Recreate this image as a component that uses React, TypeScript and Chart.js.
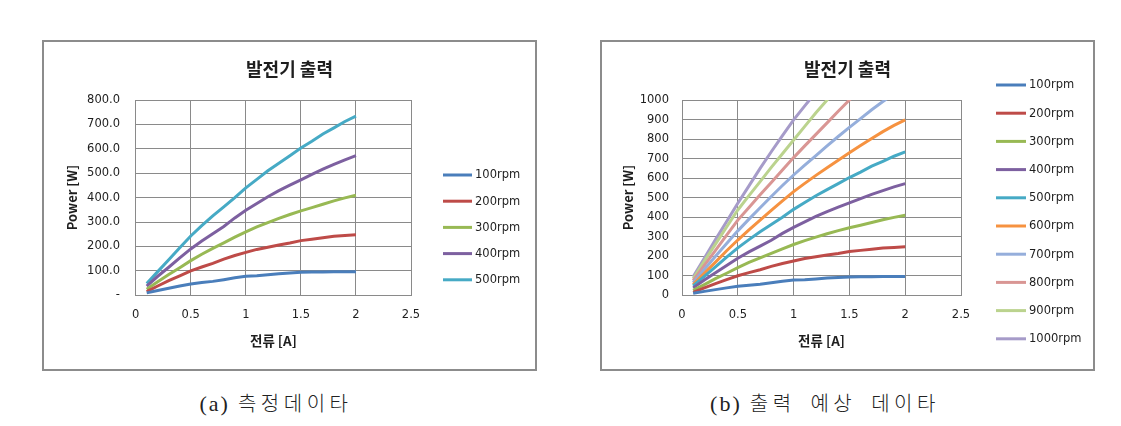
import React, { useEffect, useRef } from "react";
import { Chart, registerables } from "chart.js";

Chart.register(...registerables);

// ---------- data ----------
const currents = [0.1, 0.2, 0.3, 0.4, 0.5, 0.6, 0.7, 0.8, 0.9, 1.0, 1.1, 1.2, 1.3, 1.4, 1.5, 1.6, 1.7, 1.8, 1.9, 2.0];

const rpm100 = [10, 20, 29, 38, 46, 52, 57, 64, 72, 78, 80, 84, 88, 91, 94, 95, 95, 96, 96, 96];
const rpm200 = [15, 38, 60, 80, 100, 116, 131, 148, 163, 176, 188, 197, 206, 214, 224, 230, 236, 242, 245, 248];
const rpm300 = [25, 55, 85, 113, 142, 168, 192, 215, 238, 260, 280, 298, 315, 331, 346, 359, 373, 387, 399, 410];
const rpm400 = [38, 78, 115, 153, 190, 222, 252, 282, 317, 348, 376, 404, 429, 451, 473, 495, 517, 536, 555, 572];
const rpm500 = [48, 97, 146, 195, 243, 285, 325, 362, 400, 440, 475, 510, 541, 572, 603, 631, 661, 686, 712, 734];
const rpm600 = [55, 113, 170, 228, 283, 335, 385, 435, 483, 531, 573, 614, 653, 692, 730, 767, 803, 838, 870, 898];
const rpm700 = [65, 132, 200, 265, 330, 390, 448, 506, 562, 616, 666, 715, 765, 813, 860, 905, 950, 992, 1032, 1070];
const rpm800 = [75, 153, 230, 308, 385, 450, 515, 578, 642, 705, 765, 824, 883, 942, 1000, 1055, 1108, 1160, 1210, 1260];
const rpm900 = [85, 175, 262, 350, 437, 510, 582, 655, 725, 795, 865, 935, 1000, 1065, 1128, 1190, 1250, 1310, 1368, 1425];
const rpm1000 = [95, 190, 285, 378, 471, 560, 650, 735, 818, 898, 970, 1040, 1108, 1175, 1240, 1300, 1360, 1420, 1478, 1535];

const seriesLabels = ["100rpm", "200rpm", "300rpm", "400rpm", "500rpm", "600rpm", "700rpm", "800rpm", "900rpm", "1000rpm"];
const seriesColors = ["#4A7EBB", "#BE4B48", "#98B954", "#7D60A0", "#46AAC5", "#F69240", "#95AEDB", "#D99694", "#BBD38E", "#A69BC9"];
const allSeries = [rpm100, rpm200, rpm300, rpm400, rpm500, rpm600, rpm700, rpm800, rpm900, rpm1000];

const chartTitle = "발전기 출력";
const xTitle = "전류 [A]";
const yTitle = "Power [W]";
const captionATag = "(a)";
const captionAText = "측정데이타";
const captionBTag = "(b)";
const captionBText = "출력 예상 데이타";

// ---------- styling ----------
const SANS = '"DejaVu Sans", "Noto Sans CJK KR", sans-serif';
const KR = '"Noto Sans CJK KR", "DejaVu Sans", sans-serif';
const GRID = "#8a8a8a";
const TEXT = "#1e1e1e";

const panelLegendPlugin = {
  id: "panelLegend",
  afterDraw(chart: any, _args: any, opts: any) {
    if (!opts || !opts.display) return;
    const ctx = chart.ctx;
    ctx.save();
    ctx.font = `${opts.fontSize}px ${SANS}`;
    ctx.textBaseline = "middle";
    ctx.textAlign = "left";
    chart.data.datasets.forEach((ds: any, i: number) => {
      const y = opts.y + i * opts.step;
      ctx.strokeStyle = ds.borderColor;
      ctx.lineWidth = 3;
      ctx.beginPath();
      ctx.moveTo(opts.x, y);
      ctx.lineTo(opts.x + opts.lineLen, y);
      ctx.stroke();
      ctx.fillStyle = TEXT;
      ctx.fillText(ds.label, opts.x + opts.lineLen + 3, y + 0.5);
    });
    ctx.restore();
  },
};

type PanelProps = {
  count: number;
  yMax: number;
  yFormat: (v: number) => string;
  yWidth: number;
  padRight: number;
  yTickPad: number;
  yTitlePad: number;
  legend: { x: number; y: number; step: number; lineLen: number };
};

const CW = 491;
const CH = 327;

function Panel(p: PanelProps) {
  const ref = useRef<HTMLCanvasElement | null>(null);
  useEffect(() => {
    if (!ref.current) return;
    const datasets = allSeries.slice(0, p.count).map((s, i) => ({
      label: seriesLabels[i],
      data: currents.map((x, j) => ({ x, y: s[j] })),
      borderColor: seriesColors[i],
      backgroundColor: seriesColors[i],
      borderWidth: 3,
      pointRadius: 0,
      pointHoverRadius: 0,
      fill: false,
      tension: 0,
      clip: 0,
      xAxisID: "x",
      yAxisID: "y",
    }));
    const chart = new Chart(ref.current, {
      type: "line",
      data: { datasets },
      plugins: [panelLegendPlugin],
      options: {
        responsive: false,
        animation: false,
        devicePixelRatio: 1,
        layout: { padding: 0 },
        plugins: {
          legend: { display: false },
          tooltip: { enabled: false },
          title: {
            display: true,
            text: chartTitle,
            color: TEXT,
            font: { family: KR, size: 18, weight: "bold" },
            lineHeight: 1.2,
            padding: { top: 16.2, bottom: 20.2 },
          },
          panelLegend: { display: true, fontSize: 11.5, ...p.legend },
        } as any,
        scales: {
          x: {
            type: "linear",
            min: 0,
            max: 2.5,
            ticks: {
              stepSize: 0.5,
              padding: 12.8,
              color: TEXT,
              font: { family: SANS, size: 11.5 },
              callback: (v: any) => String(Number(v)),
            },
            grid: { color: GRID, lineWidth: 1, drawTicks: false },
            border: { color: GRID, width: 1 },
            title: {
              display: true,
              text: xTitle,
              color: TEXT,
              font: { family: KR, size: 13.5, weight: "bold" },
              padding: { top: 0, bottom: 19.9 },
            },
            afterFit: (s: any) => {
              s.height = 73.7;
            },
          },
          y: {
            type: "linear",
            position: "left",
            min: 0,
            max: p.yMax,
            ticks: {
              stepSize: 100,
              padding: p.yTickPad,
              color: TEXT,
              font: { family: SANS, size: 11.5 },
              callback: (v: any) => p.yFormat(Number(v)),
            },
            grid: { color: GRID, lineWidth: 1, drawTicks: false },
            border: { color: GRID, width: 1 },
            title: {
              display: true,
              text: yTitle,
              color: TEXT,
              font: { family: KR, size: 13, weight: "bold" },
              padding: { top: p.yTitlePad, bottom: 0 },
            },
            afterFit: (s: any) => {
              s.width = p.yWidth;
            },
          },
          legendSpace: {
            type: "linear",
            position: "right",
            display: true,
            min: 0,
            max: 1,
            ticks: { display: false },
            grid: { display: false, drawTicks: false },
            border: { display: false },
            afterFit: (s: any) => {
              s.width = p.padRight;
            },
          },
        },
      } as any,
    });
    return () => chart.destroy();
  }, []);
  return <canvas ref={ref} width={CW} height={CH} style={{ position: "absolute", left: 0, top: 0, width: CW, height: CH }} />;
}

const frameStyle = (left: number): React.CSSProperties => ({
  position: "absolute",
  left,
  top: 40,
  width: 495,
  height: 331,
  boxSizing: "border-box",
  border: "2px solid #8c8c8c",
  background: "#fff",
});

const captionStyle = (cx: number): React.CSSProperties => ({
  position: "absolute",
  left: cx - 200,
  width: 400,
  top: 390,
  textAlign: "center",
  fontFamily: '"Liberation Serif", "Noto Sans CJK KR", serif',
  fontSize: 22,
  lineHeight: "26px",
  color: "#222",
  whiteSpace: "pre",
});

const tagSpan: React.CSSProperties = {
  letterSpacing: 2,
};

const krSpan: React.CSSProperties = {
  fontFamily: '"Noto Sans CJK KR", sans-serif',
  fontWeight: 300,
  letterSpacing: 4.5,
  wordSpacing: 6,
  fontSize: 20,
  marginLeft: 8,
};

export default function App() {
  return (
    <div style={{ position: "absolute", left: 0, top: 0, width: 1121, height: 426, background: "#fff", overflow: "hidden" }}>
      <div style={frameStyle(42)}>
        <Panel
          count={5}
          yMax={800}
          yFormat={(v) => (v === 0 ? "-" : v.toFixed(1))}
          yWidth={91.7}
          padRight={124}
          yTickPad={15.7}
          yTitlePad={20.2}
          legend={{ x: 399, y: 133, step: 26.2, lineLen: 29 }}
        />
      </div>
      <div style={frameStyle(600)}>
        <Panel
          count={10}
          yMax={1000}
          yFormat={(v) => String(v)}
          yWidth={80}
          padRight={132}
          yTickPad={13}
          yTitlePad={18.2}
          legend={{ x: 394, y: 43, step: 28.2, lineLen: 30 }}
        />
      </div>
      <div style={captionStyle(276)}>
        <span style={tagSpan}>{captionATag}</span>
        <span style={krSpan}>{captionAText}</span>
      </div>
      <div style={captionStyle(825)}>
        <span style={tagSpan}>{captionBTag}</span>
        <span style={krSpan}>{captionBText}</span>
      </div>
    </div>
  );
}
